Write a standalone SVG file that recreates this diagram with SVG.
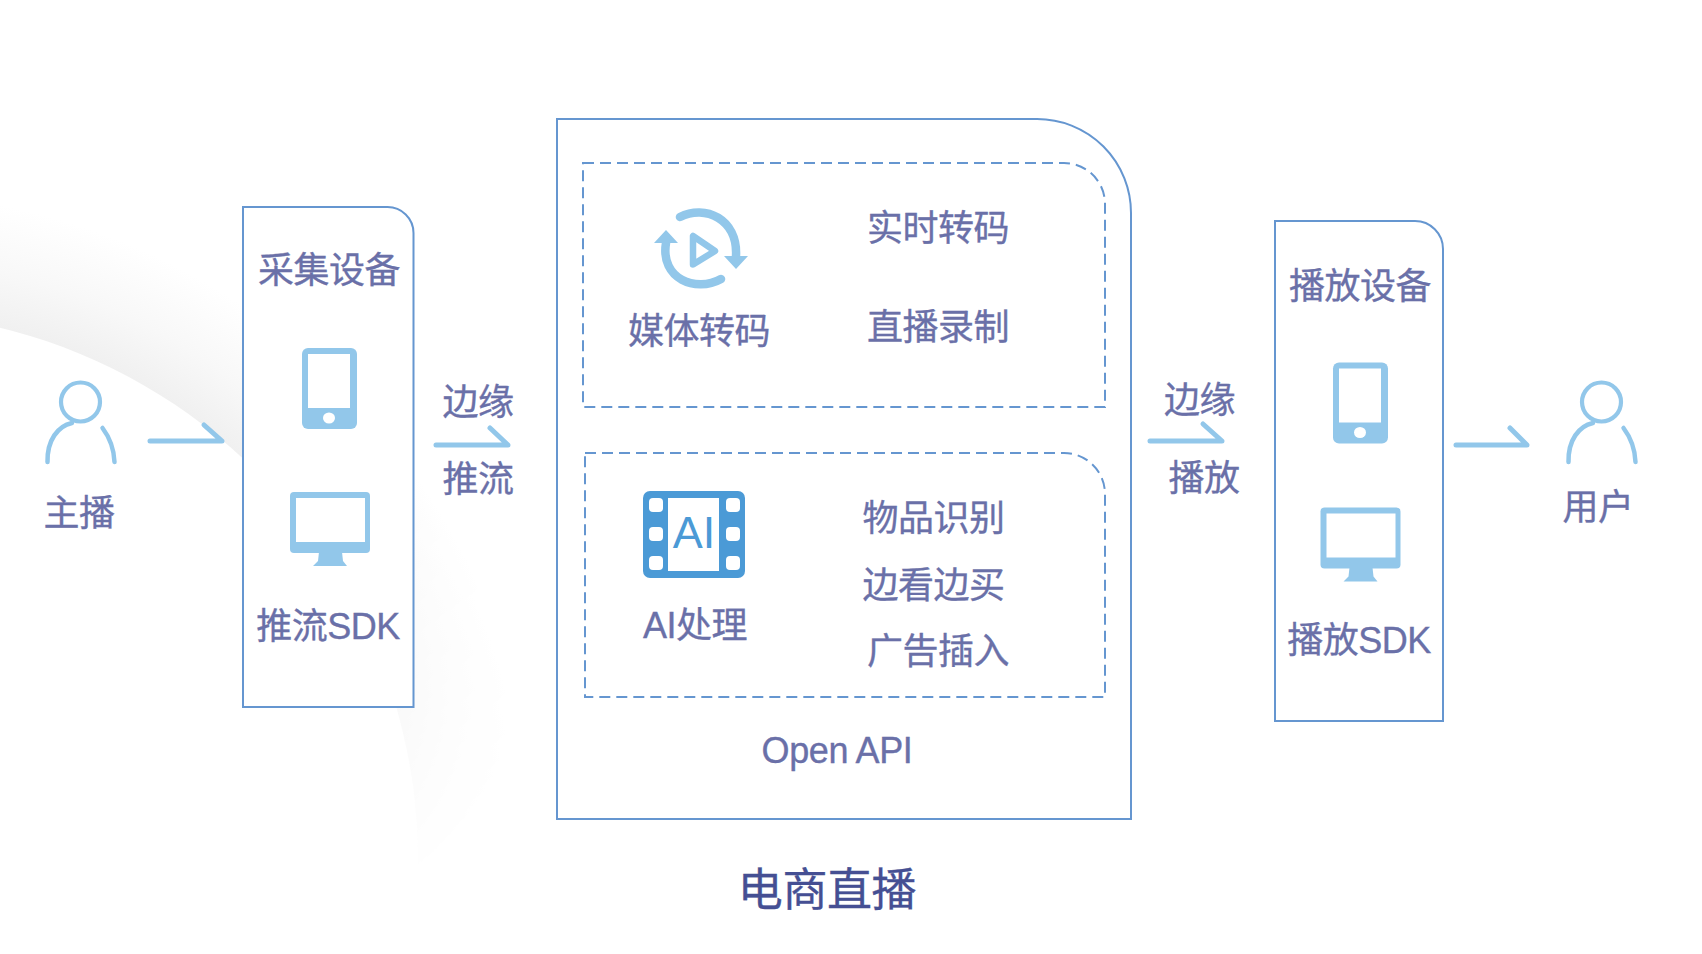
<svg xmlns="http://www.w3.org/2000/svg" xmlns:xlink="http://www.w3.org/1999/xlink" width="1702" height="954" viewBox="0 0 1702 954">
<style>
.lbl{font-family:"Liberation Sans","Noto Sans CJK SC",sans-serif;font-size:36px;letter-spacing:-.5px;fill:#6a70a8;stroke:#6a70a8;stroke-width:.35px;text-anchor:middle}
.title{font-family:"Liberation Sans","Noto Sans CJK SC",sans-serif;font-size:45px;letter-spacing:-.4px;fill:#454f93;stroke:#454f93;stroke-width:.35px;text-anchor:middle}
.box{fill:#fff;stroke:#6596d0;stroke-width:2}
.dash{fill:none;stroke:#6596d0;stroke-width:2;stroke-dasharray:11 6}
.ic{fill:#92c7ea}
.icl{fill:none;stroke:#92c7ea;stroke-linecap:round}
.arr{fill:none;stroke:#92c7ea;stroke-width:5;stroke-linecap:round;stroke-linejoin:round}
.hole{fill:#fff}
</style>
<defs>
<radialGradient id="sw" gradientUnits="userSpaceOnUse" cx="-130" cy="860" r="668">
<stop offset="0.82" stop-color="#f0f0f0"/>
<stop offset="0.9" stop-color="#f8f8f8"/>
<stop offset="1" stop-color="#fff"/>
</radialGradient>
<linearGradient id="fade" gradientUnits="userSpaceOnUse" x1="0" y1="300" x2="420" y2="880">
<stop offset="0" stop-color="#fff"/>
<stop offset="0.55" stop-color="#fff"/>
<stop offset="0.7" stop-color="#888"/>
<stop offset="1" stop-color="#000"/>
</linearGradient>
<mask id="m" maskUnits="userSpaceOnUse" x="0" y="0" width="1702" height="954"><rect width="1702" height="954" fill="url(#fade)"/></mask>
<g id="phone">
<rect class="ic" x="302" y="348" width="55" height="81" rx="6"/>
<rect class="hole" x="308" y="354" width="42" height="54"/>
<ellipse class="hole" cx="329" cy="418" rx="6" ry="5.5"/>
</g>
<g id="monitor">
<rect class="ic" x="290" y="492" width="80" height="61" rx="4"/>
<rect class="hole" x="296" y="498" width="69" height="44"/>
<path class="ic" d="M319 552H342L343 561L347 566H313L318 561Z"/>
</g>
<g id="person">
<circle class="icl" stroke-width="4.200" cx="80.500" cy="402" r="19.500"/>
<path class="icl" stroke-width="4.500" d="M47.500 462C47 440 58 426 72 423M102.500 428C110 438 114 449 114.500 462"/>
</g>
</defs>
<rect width="1702" height="954" fill="#fff"/>
<path id="bg-swoosh" mask="url(#m)" fill="url(#sw)" fill-rule="evenodd" d="M-130 192a668 668 0 1 0 .01 0ZM-130 312a548 548 0 1 1 -.01 0Z"/>

<g id="connectors">
<path class="arr" d="M150 441H222L204 425"/>
<path class="arr" d="M436 445H508L490 428"/>
<path class="arr" d="M1150 441H1222L1203 424"/>
<path class="arr" d="M1456 445H1527L1510 428"/>
</g>

<g id="anchor">
<use xlink:href="#person" href="#person"/>
<text class="lbl" x="79" y="526">主播</text>
</g>

<g id="capture-devices">
<path class="box" d="M243 207H387A26 26 0 0 1 413.500 233V707H243Z"/>
<text class="lbl" x="329" y="283">采集设备</text>
<use href="#phone"/>
<use href="#monitor"/>
<text class="lbl" x="328" y="639">推流SDK</text>
</g>

<g id="edge-push">
<text class="lbl" x="478" y="415">边缘</text>
<text class="lbl" x="478" y="492">推流</text>
</g>

<g id="ecommerce-live">
<path class="box" d="M557 119H1037A94 94 0 0 1 1131 213V819H557Z"/>
<text class="lbl" x="837" y="763" style="letter-spacing:-.4px">Open API</text>
</g>

<g id="media-transcoding">
<path class="dash" d="M583 163H1064A41 41 0 0 1 1105 204V407H583Z"/>
<g>
<path class="icl" stroke-width="8.500" d="M680 217C705 204 738 219 736 256M721 279C696 293 660 279 666 243"/>
<path class="ic" d="M724 256H748L736 269ZM654 243H678L666 230Z"/>
<path fill="none" stroke="#92c7ea" stroke-width="6.500" stroke-linejoin="round" d="M693 236V264.500L715 251Z"/>
</g>
<text class="lbl" x="699" y="344">媒体转码</text>
<text class="lbl" x="938" y="241">实时转码</text>
<text class="lbl" x="938" y="340">直播录制</text>
</g>

<g id="ai-processing">
<path class="dash" d="M585 453H1064A41 41 0 0 1 1105 494V697H585Z"/>
<g>
<rect x="643" y="491" width="102" height="87" rx="7" fill="#4b9ad6"/>
<rect class="hole" x="668" y="498" width="51" height="73"/>
<rect class="hole" x="649" y="498" width="14" height="14" rx="4"/>
<rect class="hole" x="649" y="527" width="14" height="14" rx="4"/>
<rect class="hole" x="649" y="556" width="14" height="14" rx="4"/>
<rect class="hole" x="726" y="498" width="14" height="14" rx="4"/>
<rect class="hole" x="726" y="527" width="14" height="14" rx="4"/>
<rect class="hole" x="726" y="556" width="14" height="14" rx="4"/>
<text x="694" y="548" text-anchor="middle" font-family="Liberation Sans, sans-serif" font-size="45" fill="#4b9ad6">AI</text>
</g>
<text class="lbl" x="695" y="638">AI处理</text>
<text class="lbl" x="933.500" y="531">物品识别</text>
<text class="lbl" x="933.500" y="598">边看边买</text>
<text class="lbl" x="938" y="664">广告插入</text>
</g>

<g id="ecommerce-title">
<text class="title" x="827" y="906">电商直播</text>
</g>

<g id="edge-play">
<text class="lbl" x="1199.500" y="413">边缘</text>
<text class="lbl" x="1204" y="491">播放</text>
</g>

<g id="playback-devices">
<path class="box" d="M1275 221H1415A28 28 0 0 1 1443 249V721H1275Z"/>
<text class="lbl" x="1360" y="299">播放设备</text>
<use href="#phone" transform="translate(1031 14.500)"/>
<use href="#monitor" transform="translate(1030.500 15.500)"/>
<text class="lbl" x="1359" y="653">播放SDK</text>
</g>

<g id="viewer">
<use href="#person" transform="translate(1521 0)"/>
<text class="lbl" x="1598" y="520">用户</text>
</g>
</svg>
